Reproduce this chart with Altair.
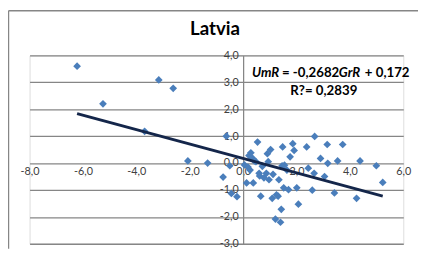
import altair as alt
import pandas as pd

# GrR (x) and UmR (y) values
gr = [-6.22, -5.25, -3.16, -2.62, -3.69, -2.07, -1.33, -0.63, -0.75, -0.50, -0.44, -0.23,
      0.05, 0.13, 0.26, 0.29, 0.36, 0.38, 0.54, 0.48, 0.60, 0.66, 0.62, 0.91, 1.03, 0.94,
      0.87, 0.97, 1.09, 1.21, 1.40, 1.31, 1.34, 1.48, 1.46, 1.43, 1.52, 1.70, 1.64, 1.76,
      1.86, 1.91, 2.01, 2.07, 2.38, 2.44, 2.68, 2.66, 2.59, 2.90, 3.05, 3.15, 3.17, 3.42,
      3.54, 3.73, 4.25, 4.38, 4.99, 5.23, 0.22, 0.42, 0.72, 0.18, 1.12, 0.78, 1.55, 1.25]
um = [3.60, 2.20, 3.09, 2.78, 1.18, 0.08, 0.00, 1.00, -0.52, -0.10, -1.13, -1.25,
      -0.07, -0.74, -0.26, 0.38, 0.17, -0.74, 0.78, 0.05, -0.38, -1.23, -0.48, 0.35, 0.50, 0.05,
      -0.38, -0.62, -1.31, -2.08, -2.20, -1.23, -0.62, 0.60, -0.10, -1.72, -0.92, -0.99, -0.26, 0.23,
      0.72, 0.47, -0.92, -1.53, 0.60, -0.19, 0.99, -0.38, -1.01, 0.17, -0.50, 0.69, -0.01, -1.11,
      0.08, 0.69, -1.31, 0.08, -0.10, -0.72, 0.28, 0.08, -0.12, -0.15, -0.42, -0.55, -0.08, -1.18]

slope = -0.2682
intercept = 0.172
x_ticks = [-8, -6, -4, -2, 0, 2, 4, 6]
y_ticks = [-3, -2, -1, 0, 1, 2, 3, 4]
title_text = "Latvia"
eq_parts = ["UmR", "= -0,2682", "GrR", "+ 0,172"]
r2_text = "R?= 0,2839"

W, H = 381, 192
XMIN, XMAX, YMIN, YMAX = -8, 6, -3, 4
GRID = "#868686"
FONT = "Lato"

pts = pd.DataFrame({"GrR": gr, "UmR": um})
lo, hi = min(gr), max(gr)
trend = pd.DataFrame({"GrR": [lo, hi], "UmR": [slope * lo + intercept, slope * hi + intercept]})

xs = alt.Scale(domain=[XMIN, XMAX], nice=False, zero=False)
ys = alt.Scale(domain=[YMIN, YMAX], nice=False, zero=False)
lab = "(datum.value < 0 ? '-' : '') + replace(format(abs(datum.value), '.1f'), '.', ',')"

xaxis = alt.Axis(values=x_ticks, tickCount=len(x_ticks), offset=-(0 - YMIN) / (YMAX - YMIN) * H,
                 domain=False, ticks=False, grid=False, labelExpr=lab, labelFlush=False,
                 labelOverlap=False, labelBound=False, labelFont=FONT, labelFontSize=11,
                 labelColor="#404040", labelPadding=3, title=None)
yaxis = alt.Axis(values=y_ticks, tickCount=len(y_ticks), offset=-(0 - XMIN) / (XMAX - XMIN) * W,
                 domain=True, domainColor=GRID, domainWidth=1.3, ticks=False, grid=True,
                 gridColor=GRID, gridWidth=1.3, labelExpr=lab, labelFlush=False,
                 labelOverlap=False, labelBound=False, labelFont=FONT, labelFontSize=11,
                 labelColor="#404040", labelPadding=5, labelBaseline="middle", title=None)

points = alt.Chart(pts).mark_point(shape="diamond", filled=True, size=62, color="#4A7EBB", opacity=1).encode(
    x=alt.X("GrR:Q", scale=xs, axis=xaxis),
    y=alt.Y("UmR:Q", scale=ys, axis=yaxis),
)
line = alt.Chart(trend).mark_line(color="#14264A", strokeWidth=3).encode(
    x=alt.X("GrR:Q", scale=xs), y=alt.Y("UmR:Q", scale=ys)
)

one = alt.Data(values=[{}])
border_left = alt.Chart(one).mark_rule(color=GRID, strokeWidth=1.5).encode(
    x=alt.value(-21.5), y=alt.value(-45.5), y2=alt.value(H + 5))
border_top = alt.Chart(one).mark_rule(color=GRID, strokeWidth=1.5).encode(
    x=alt.value(-21.5), x2=alt.value(W + 15), y=alt.value(-45.5))

title = alt.Chart(one).mark_text(text=title_text, font=FONT, fontSize=19, fontWeight="bold",
                                 color="#000000", align="center", baseline="alphabetic").encode(
    x=alt.value(189), y=alt.value(-20.7))

eq_x = [226.7, 257.3, 315.3, 341.8]
eq_style = ["italic", "normal", "italic", "normal"]
eq_layers = []
for txt, px, st in zip(eq_parts, eq_x, eq_style):
    eq_layers.append(alt.Chart(one).mark_text(text=txt, font=FONT, fontSize=13.5, fontWeight="bold",
                                              fontStyle=st, color="#000000", align="left",
                                              baseline="middle").encode(
        x=alt.value(px), y=alt.value(17.7)))
r2 = alt.Chart(one).mark_text(text=r2_text, font=FONT, fontSize=13.5, fontWeight="bold",
                              color="#000000", align="center", baseline="middle").encode(
    x=alt.value(300), y=alt.value(36.8))

chart = alt.layer(points, line, border_left, border_top, title, *eq_layers, r2).properties(
    width=W, height=H, autosize=alt.AutoSizeParams(type="none"),
    padding={"left": 22, "top": 46, "right": 15, "bottom": 5},
).configure_view(stroke=None).configure(background="#ffffff")

chart.save("out.html", embed_options={"renderer": "svg", "actions": False})
